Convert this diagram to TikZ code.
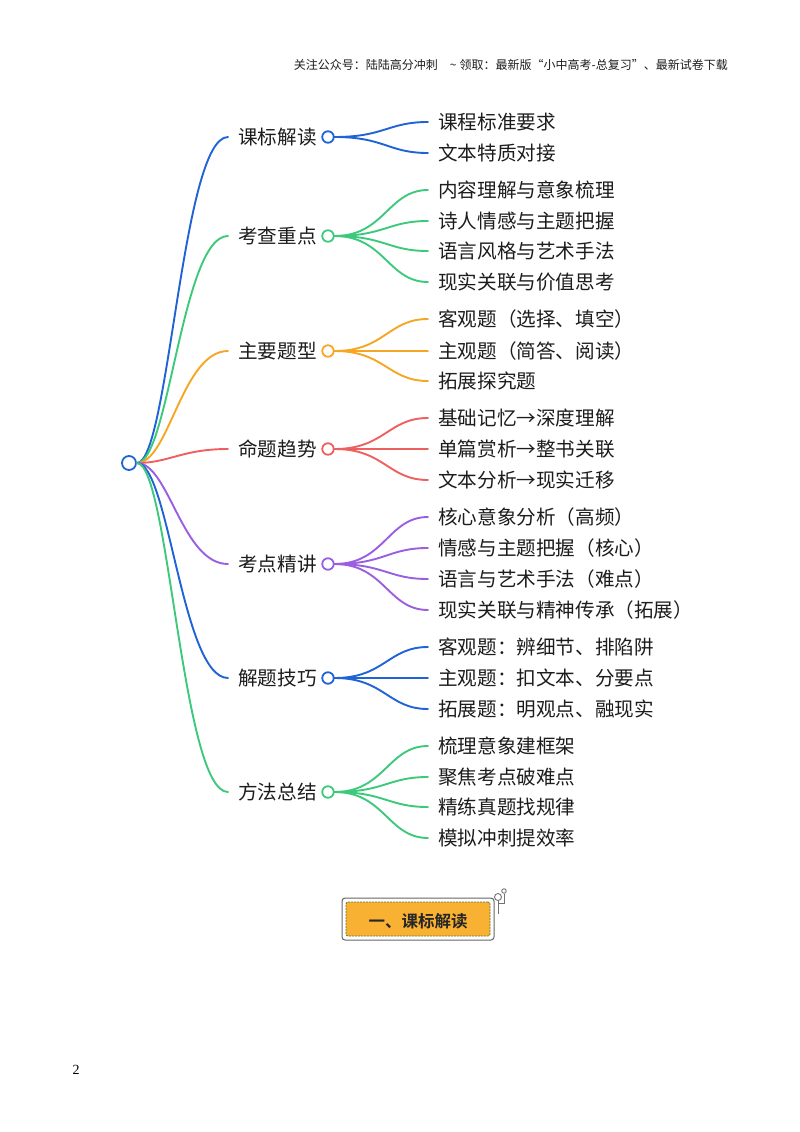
\documentclass[tikz,border=0pt]{standalone}
\usepackage{fontspec}
\setmainfont{Liberation Serif}
\newfontfamily\cjk{Noto Sans CJK SC}
\newfontfamily\cjkb{Noto Sans CJK SC}[BoldFont={Noto Sans CJK SC Bold}]
\definecolor{cblue}{HTML}{1F63D6}
\definecolor{cgreen}{HTML}{3DC97C}
\definecolor{corange}{HTML}{F5A623}
\definecolor{cred}{HTML}{EE6060}
\definecolor{cpurple}{HTML}{9A5EE0}
\definecolor{ink}{HTML}{1C1C1C}
\definecolor{btnfill}{HTML}{F8B133}
\definecolor{btndash}{HTML}{5E7A3A}
\tikzset{
  x=1pt,y=-1pt,
  hub/.style={circle,draw,fill=white,line width=1.8pt,minimum size=11.5pt,inner sep=0pt},
  roothub/.style={hub,minimum size=14pt},
  mainlabel/.style={anchor=west,inner xsep=10pt,inner ysep=0pt,text=ink,font=\cjk\fontsize{19.6}{20}\selectfont},
  leaflabel/.style={anchor=west,inner xsep=10pt,inner ysep=0pt,text=ink,font=\cjk\fontsize{19.6}{20}\selectfont},
  wire/.style={line width=1.9pt,line cap=round},
}
\newcommand{\branch}[5]{%
  \node[mainlabel] (#1) at (228,#3) {#4};
  \node[hub,draw=#2] (#1h) at (328,#3) {};
  \draw[wire,#2] (root.east) .. controls +(32,0) and +(-46,0) .. (#1.west);
  \foreach \yy/\tt [count=\n] in {#5} {
    \node[leaflabel] (#1l\n) at (428,\yy) {\tt};
    \draw[wire,#2] (#1h.east) .. controls +(50,0) and +(-40,0) .. (#1l\n.west);
  }%
}
\begin{document}
\begin{tikzpicture}
\useasboundingbox (0,0) rectangle (800,1132);
\node[anchor=east,inner sep=0pt,text=ink,font=\cjk\fontsize{12}{12}\selectfont] (hdr) at (728,65) {关注公众号：陆陆高分冲刺\hspace{12pt}\textasciitilde\hspace{3pt}领取：最新版“小中高考-总复习”、最新试卷下载};
\node[roothub,draw=cblue] (root) at (129,463) {};
\branch{a}{cblue}{137}{课标解读}{122/课程标准要求,153/文本特质对接}
\branch{b}{cgreen}{236}{考查重点}{190/内容理解与意象梳理,221/诗人情感与主题把握,251/语言风格与艺术手法,282/现实关联与价值思考}
\branch{c}{corange}{351}{主要题型}{319/客观题（选择、填空）,351/主观题（简答、阅读）,381/拓展探究题}
\branch{d}{cred}{449}{命题趋势}{418/基础记忆→深度理解,449/单篇赏析→整书关联,480/文本分析→现实迁移}
\branch{e}{cpurple}{564}{考点精讲}{517/核心意象分析（高频）,548/情感与主题把握（核心）,579/语言与艺术手法（难点）,610/现实关联与精神传承（拓展）}
\branch{f}{cblue}{678}{解题技巧}{647/客观题：辨细节、排陷阱,678/主观题：扣文本、分要点,709/拓展题：明观点、融现实}
\branch{g}{cgreen}{792}{方法总结}{746/梳理意象建框架,777/聚焦考点破难点,807/精练真题找规律,838/模拟冲刺提效率}
\node[draw=black!60,line width=1pt,rounded corners=3pt,minimum width=152pt,minimum height=42pt,inner sep=0pt] (btnout) at (418,919) {};
\node[draw=btndash,dashed,dash pattern=on 2pt off 1pt,line width=0.8pt,fill=btnfill,rounded corners=2pt,minimum width=144pt,minimum height=34pt,inner sep=0pt] (btn) at (418,919) {};
\node[inner sep=0pt,text=black!85,font=\cjkb\bfseries\fontsize{16.5}{17}\selectfont] (btntext) at (418,921) {一、课标解读};
\node[circle,draw=black!55,line width=.9pt,minimum size=7pt,inner sep=0pt] (deco1) at (498,897) {};
\node[circle,draw=black!55,line width=.9pt,minimum size=4.5pt,inner sep=0pt] (deco2) at (504,891) {};
\coordinate (decoa) at (498,914);
\coordinate (decob) at (498,903);
\coordinate (decoc) at (504,903);
\draw[black!55,line width=.9pt] (deco1) -- (decoa);
\draw[black!55,line width=.9pt] (decob) -- (decoc) -- (deco2);
\node[inner sep=0pt,font=\fontsize{14}{14}\selectfont] (pg) at (76,1070) {2};
\end{tikzpicture}
\end{document}
